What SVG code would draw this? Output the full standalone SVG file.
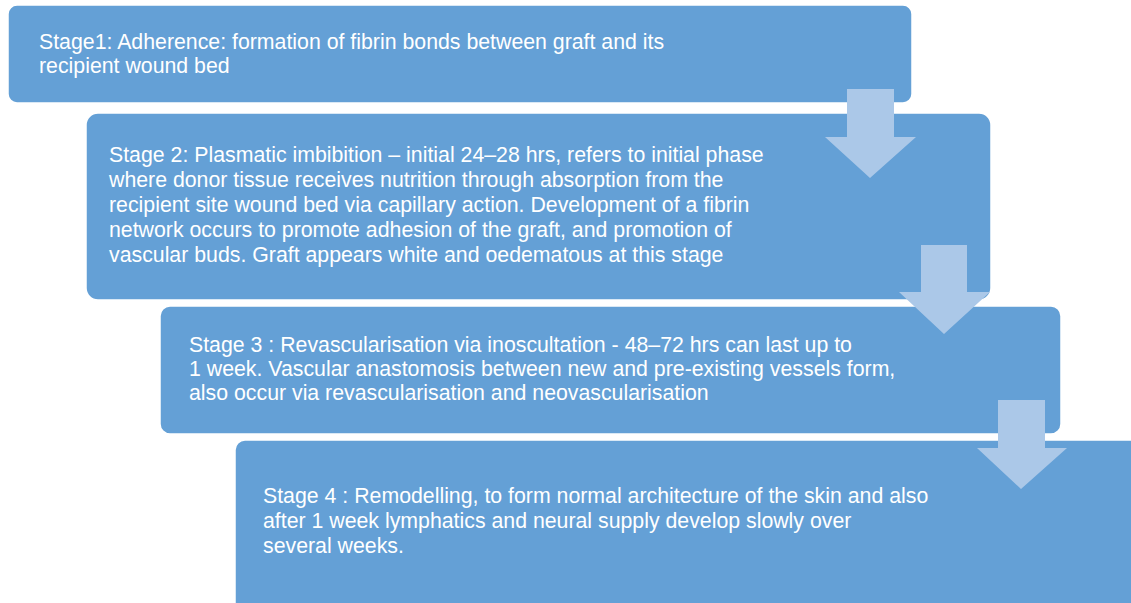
<svg xmlns="http://www.w3.org/2000/svg" width="1131" height="603" viewBox="0 0 1131 603">
<style>
.box{fill:#64A0D6;stroke:#ffffff;stroke-width:1.5}
.arr{fill:#ABC8E8}
.t{font-family:"Liberation Sans",Arial,sans-serif;font-size:21.3px;fill:#ffffff}
</style>
<rect width="1131" height="603" fill="#ffffff"/>
<g id="stage1"><rect class="box" x="8" y="5" width="904" height="98" rx="9"/>
<text class="t" x="39" y="49">Stage1: Adherence: formation of fibrin bonds between graft and its</text>
<text class="t" x="39" y="73">recipient wound bed</text></g>
<g id="stage2"><rect class="box" x="86" y="113" width="905" height="187" rx="12"/>
<text class="t"><tspan x="109" y="162">Stage 2: Plasmatic imbibition – initial 24–28 hrs, refers to initial phase</tspan><tspan x="109" y="187">where donor tissue receives nutrition through absorption from the</tspan><tspan x="109" y="212">recipient site wound bed via capillary action. Development of a fibrin</tspan><tspan x="109" y="237">network occurs to promote adhesion of the graft, and promotion of</tspan><tspan x="109" y="262">vascular buds. Graft appears white and oedematous at this stage</tspan></text></g>
<g id="stage3"><rect class="box" x="160" y="306" width="901" height="128" rx="10"/>
<text class="t"><tspan x="189" y="352">Stage 3 : Revascularisation via inoscultation - 48–72 hrs can last up to</tspan><tspan x="189" y="376">1 week. Vascular anastomosis between new and pre-existing vessels form,</tspan><tspan x="189" y="400">also occur via revascularisation and neovascularisation</tspan></text></g>
<g id="stage4"><rect class="box" x="235" y="440" width="905" height="175" rx="10"/>
<text class="t"><tspan x="263" y="503">Stage 4 : Remodelling, to form normal architecture of the skin and also</tspan><tspan x="263" y="528">after 1 week lymphatics and neural supply develop slowly over</tspan><tspan x="263" y="553">several weeks.</tspan></text></g>
<g id="connectors">
<polygon class="arr" points="847,89 894,89 894,137 916,137 870,178 825,137 847,137"/>
<polygon class="arr" points="921,245 967,245 967,292 990,292 944,334 899,292 921,292"/>
<polygon class="arr" points="998,400 1045,400 1045,448 1067,448 1021,489 977,448 998,448"/>
</g>
</svg>
